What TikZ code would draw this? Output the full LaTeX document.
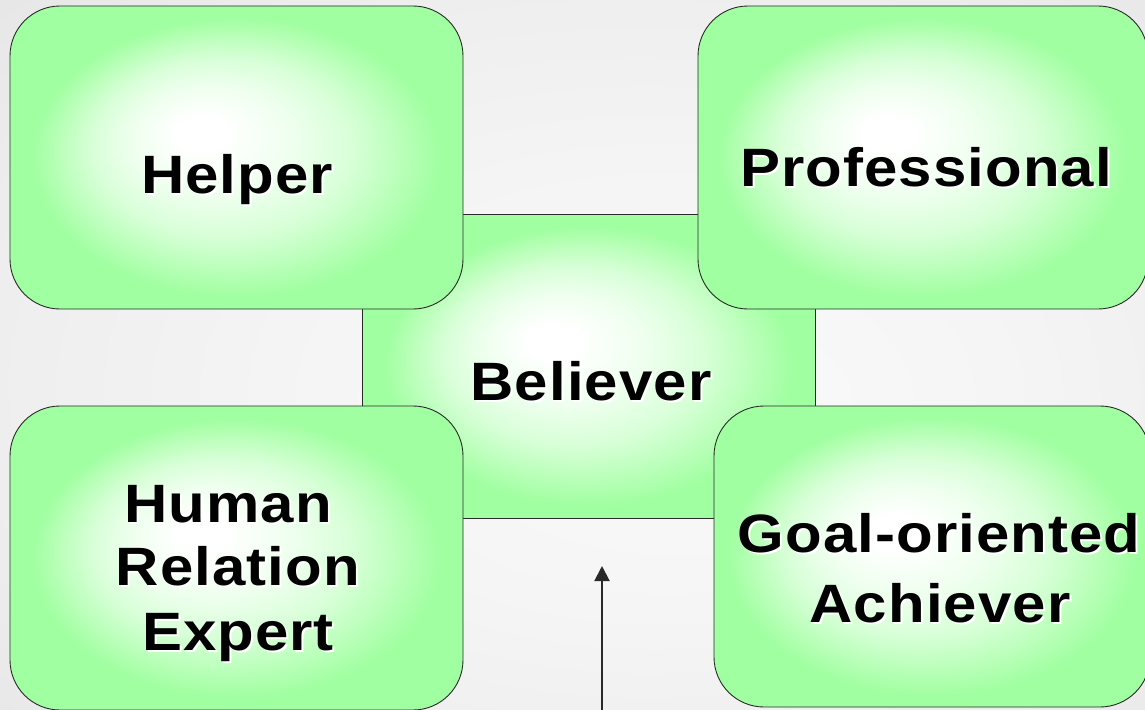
\documentclass[tikz,border=0pt]{standalone}
\usepackage{fontspec}
\usetikzlibrary{arrows.meta}
\newfontfamily\boxfont[FakeStretch=1.11,LetterSpace=2]{Liberation Sans}
\definecolor{boxgreen}{HTML}{A0FFA0}
\definecolor{edgecol}{HTML}{2A2A2A}
\definecolor{bgA}{HTML}{FAFAFA}
\definecolor{bgB}{HTML}{F5F5F5}
\definecolor{bgC}{HTML}{EDEDED}
\definecolor{bgD}{HTML}{E0E0E0}
% focal point offset toward upper left, outer circle = ellipse edge (25bp)
\pgfdeclareradialshading{glow}{\pgfpoint{-4.9bp}{5bp}}{%
  color(0bp)=(white); color(3bp)=(white); color(10bp)=(white!82!boxgreen); color(16bp)=(white!58!boxgreen); color(21bp)=(white!26!boxgreen); color(25bp)=(boxgreen)}
\pgfdeclareradialshading{bgshade}{\pgfpoint{5.6bp}{-4.6bp}}{%
  color(0bp)=(bgA); color(15bp)=(bgB); color(30bp)=(bgC); color(45bp)=(bgD); color(50bp)=(bgD)}
\tikzset{
  roundbox/.style={draw=edgecol, line width=0.9pt, fill=boxgreen, rounded corners=50pt, inner sep=0pt, outer sep=0pt},
  squarebox/.style={draw=edgecol, line width=0.9pt, fill=boxgreen, inner sep=0pt, outer sep=0pt},
  glowfill/.style={shading=glow},
  lbl/.style={anchor=base, inner sep=0pt, font=\boxfont\bfseries\fontsize{54}{64}\selectfont, text=black},
  lblshadow/.style={lbl, text=white},
  arrowline/.style={draw=edgecol, line width=2pt, -{Triangle[length=15pt,width=15pt]}}
}
\newcommand{\shadowlabel}[4]{%
  \node[lblshadow] (#3s) at (#1+2,#2+2) {#4};
  \node[lbl] (#3) at (#1,#2) {#4};}
\newcommand{\glowin}[1]{%
  \shade[glowfill] (#1.center) ellipse [x radius=205pt, y radius=140pt];}
\begin{document}
\begin{tikzpicture}[x=1pt,y=-1pt]
\useasboundingbox (0,0) rectangle (1145,709);
\clip (0,0) rectangle (1145,709);
\shade[shading=bgshade] (0,0) rectangle (1145,709);
% central box (behind)
\node[squarebox, minimum width=453pt, minimum height=304pt] (believer) at (588.5,366) {};
\glowin{believer}
% four rounded boxes
\node[roundbox, minimum width=453pt, minimum height=303pt] (helper) at (236.5,157.5) {};
\glowin{helper}
\node[roundbox, minimum width=450pt, minimum height=303pt] (prof) at (923,157.5) {};
\glowin{prof}
\node[roundbox, minimum width=453pt, minimum height=304pt] (human) at (236.5,558) {};
\glowin{human}
\node[roundbox, minimum width=436pt, minimum height=301pt] (goal) at (932,556.5) {};
\glowin{goal}
% labels
\shadowlabel{237}{193}{tHelper}{Helper}
\shadowlabel{926}{186}{tProf}{Professional}
\shadowlabel{591}{400}{tBeliever}{Believer}
\shadowlabel{228}{522}{tHuman}{Human}
\shadowlabel{238}{585}{tRelation}{Relation}
\shadowlabel{238}{650}{tExpert}{Expert}
\shadowlabel{939}{552}{tGoal}{Goal-oriented}
\shadowlabel{940}{622}{tAchiever}{Achiever}
% arrow
\coordinate (arrowstart) at (602,712);
\coordinate (arrowtip) at (602,566);
\draw[arrowline] (arrowstart) -- (arrowtip);
\end{tikzpicture}
\end{document}
